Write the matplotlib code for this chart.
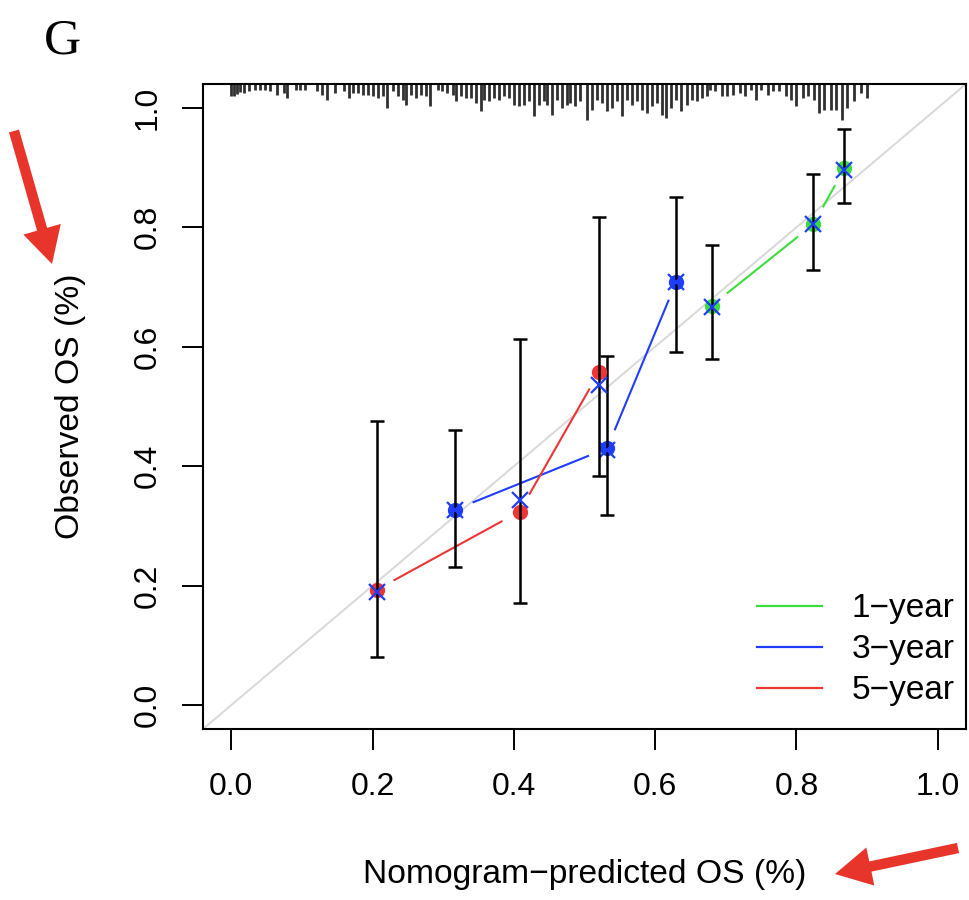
import numpy as np
import matplotlib
matplotlib.use("Agg")
import matplotlib.pyplot as plt
from matplotlib.patches import FancyArrowPatch
from matplotlib.lines import Line2D

plt.rcParams['font.family'] = ['Liberation Sans', 'DejaVu Sans']

# ---------------- data ----------------
series_labels = ["1\u2212year", "3\u2212year", "5\u2212year"]

pred_1y = [0.680, 0.824, 0.868]
obs_1y = [0.669, 0.805, 0.899]
lo_1y = [0.580, 0.7285, 0.840]
hi_1y = [0.770, 0.890, 0.964]
corr_1y = [0.667, 0.805, 0.896]

pred_3y = [0.316, 0.532, 0.630]
obs_3y = [0.327, 0.430, 0.709]
lo_3y = [0.232, 0.3175, 0.592]
hi_3y = [0.461, 0.584, 0.850]
corr_3y = [0.327, 0.428, 0.709]

pred_5y = [0.2056, 0.408, 0.521]
obs_5y = [0.193, 0.324, 0.5585]
lo_5y = [0.080, 0.171, 0.384]
hi_5y = [0.476, 0.613, 0.818]
corr_5y = [0.190, 0.344, 0.536]

# distribution of predicted values (spike plot at top)
rug_x = [0.000, 0.004, 0.008, 0.013, 0.018, 0.025, 0.034, 0.041, 0.048, 0.055,
         0.065, 0.074, 0.079, 0.091, 0.098, 0.105, 0.121, 0.128, 0.135, 0.147,
         0.159, 0.166, 0.173, 0.180, 0.187, 0.194, 0.201, 0.208,
         0.215, 0.220, 0.229, 0.236, 0.243, 0.248, 0.255, 0.262, 0.269, 0.276,
         0.281, 0.292, 0.299, 0.306, 0.314, 0.318, 0.325, 0.332, 0.339, 0.346,
         0.354, 0.358, 0.365, 0.372, 0.379, 0.386, 0.393, 0.400, 0.407, 0.415,
         0.421, 0.429, 0.436, 0.443,
         0.447, 0.454, 0.461, 0.468, 0.475, 0.480, 0.487, 0.494, 0.504, 0.511,
         0.518, 0.525, 0.532, 0.539, 0.546, 0.553, 0.560, 0.567, 0.574, 0.581,
         0.588, 0.595, 0.602, 0.609, 0.616, 0.623, 0.630, 0.637, 0.645, 0.652,
         0.659, 0.666, 0.673,
         0.677, 0.685, 0.694, 0.701, 0.710, 0.720, 0.727, 0.736, 0.743, 0.750,
         0.760, 0.767, 0.776, 0.785, 0.792, 0.799, 0.809, 0.816, 0.825, 0.832,
         0.839, 0.849, 0.856, 0.865, 0.872, 0.882, 0.891, 0.900]
rug_n = [10, 10, 8, 6, 7, 5, 4, 4, 4, 5,
         9, 7, 12, 4, 4, 4, 5, 9, 14, 7,
         5, 12, 7, 7, 9, 9, 10, 12,
         10, 22, 5, 10, 14, 19, 9, 12, 9, 10,
         20, 4, 5, 7, 9, 15, 10, 12, 12, 17,
         25, 14, 15, 12, 14, 10, 12, 19, 20, 19,
         15, 30, 19, 15,
         19, 29, 14, 22, 19, 17, 20, 15, 34, 24,
         14, 17, 25, 22, 15, 30, 14, 19, 15, 24,
         27, 20, 17, 29, 32, 22, 14, 25, 19, 14,
         15, 12, 10,
         4, 5, 10, 10, 9, 7, 10, 4, 14, 4,
         9, 5, 5, 10, 14, 20, 12, 10, 14, 27,
         24, 24, 24, 34, 22, 15, 7, 12]

x_ticks = [0.0, 0.2, 0.4, 0.6, 0.8, 1.0]
y_ticks = [0.0, 0.2, 0.4, 0.6, 0.8, 1.0]
tick_labels = ["0.0", "0.2", "0.4", "0.6", "0.8", "1.0"]

# ---------------- figure ----------------
W, H = 969, 900
fig = plt.figure(figsize=(W / 100, H / 100), dpi=100)
ax = fig.add_axes([203 / W, 1 - 729 / H, 763 / W, 645 / H])
ax.set_xlim(-0.04, 1.04)
ax.set_ylim(-0.04, 1.04)

c_green = '#3ddc3d'
c_blue = '#1f3dff'
c_red = '#ee3535'

# diagonal reference line
ax.plot([-0.04, 1.04], [-0.04, 1.04], color='#d8d8d8', lw=1.4, zorder=1)

# spike histogram at top
top = 1.04
scale = 0.057 / 34.0
ax.vlines(rug_x, [top - (n + 2) * scale for n in rug_n], top, color='#303030',
          lw=2.0, zorder=2)


def gapped(xs, ys, color, gap=19.5):
    pts = ax.transData.transform(np.column_stack([xs, ys]))
    inv = ax.transData.inverted()
    for p0, p1 in zip(pts[:-1], pts[1:]):
        d = p1 - p0
        L = np.hypot(*d)
        if L <= 2 * gap:
            continue
        u = d / L
        seg = inv.transform(np.array([p0 + u * gap, p1 - u * gap]))
        ax.plot(seg[:, 0], seg[:, 1], color=color, lw=1.5, zorder=3,
                solid_capstyle='butt')


series = [
    (pred_1y, obs_1y, lo_1y, hi_1y, corr_1y, c_green),
    (pred_3y, obs_3y, lo_3y, hi_3y, corr_3y, c_blue),
    (pred_5y, obs_5y, lo_5y, hi_5y, corr_5y, c_red),
]
for k, (px, ob, lo, hi, cr, col) in enumerate(series):
    z = 3 + k * 0.1
    gapped(px, ob, col)
    ax.plot(px, ob, 'o', color=col, ms=11, mew=0, zorder=z + 0.01)
    ob_a = np.array(ob)
    ax.errorbar(px, ob, yerr=[ob_a - np.array(lo), np.array(hi) - ob_a],
                fmt='none', ecolor='black', elinewidth=1.8, capsize=5,
                capthick=1.8, zorder=z + 0.02)
    ax.plot(px, cr, 'x', color=c_blue, ms=11, mew=1.6, zorder=z + 0.03)

# axes styling
for s in ax.spines.values():
    s.set_linewidth(1.5)
    s.set_color('black')
ax.set_xticks(x_ticks)
ax.set_xticklabels(tick_labels)
ax.set_yticks(y_ticks)
ax.set_yticklabels(tick_labels, rotation=90, va='center')
ax.tick_params(axis='both', direction='out', length=15, width=1.4,
               labelsize=23, colors='black')
ax.tick_params(axis='x', pad=16)
ax.tick_params(axis='y', pad=14)

ax.set_xlabel("Nomogram\u2212predicted OS (%)", fontsize=24.2, va='center')
ax.xaxis.set_label_coords(0.5, (729 - 875) / 645)
ax.set_ylabel("Observed OS (%)", fontsize=24.2, va='center')
ax.yaxis.set_label_coords((71 - 203) / 763, 0.5)

handles = [Line2D([], [], color=c, lw=1.6) for c in (c_green, c_blue, c_red)]
ax.legend(handles, series_labels, loc='lower right',
          bbox_to_anchor=(0.985, 0.035), frameon=False, fontsize=24,
          handlelength=1.95, handletextpad=0.9, labelspacing=0.3,
          borderaxespad=0, borderpad=0)

# panel letter
fig.text(44 / W, 1 - 53 / H, "G", fontsize=37, family='Liberation Serif',
         ha='left', va='baseline')

# red annotation arrows
arrow_style = 'simple,head_width=28,head_length=26,tail_width=7.5'
for (x0, y0), (x1, y1) in [((14, 131), (52, 264)), ((958, 848), (835, 874))]:
    arr = FancyArrowPatch((x0 / W, 1 - y0 / H), (x1 / W, 1 - y1 / H),
                          transform=fig.transFigure, arrowstyle=arrow_style,
                          mutation_scale=1, color='#e8352b', lw=0,
                          shrinkA=0, shrinkB=0)
    fig.add_artist(arr)

fig.savefig('out.png', dpi=100)
